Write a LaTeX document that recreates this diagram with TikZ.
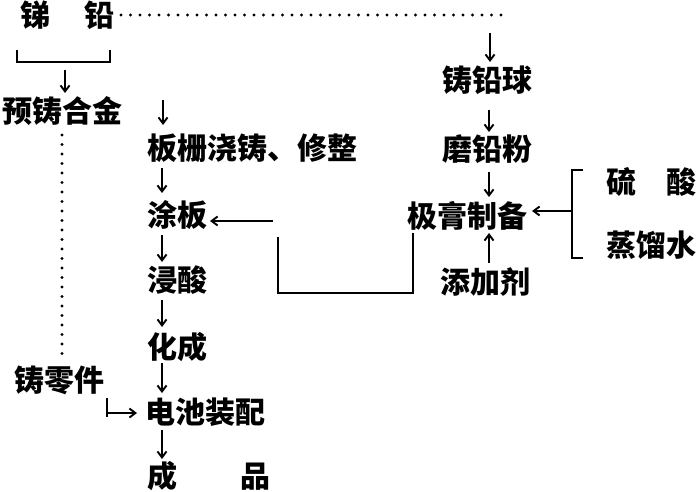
\documentclass[tikz,border=0pt]{standalone}
\usepackage{fontspec}
\newfontfamily\cjk{Noto Sans CJK SC}
\usetikzlibrary{arrows.meta}
\tikzset{
  lbl/.style={font=\cjk\bfseries\fontsize{30}{30}\selectfont, inner sep=0pt, outer sep=0pt, text height=26pt, text depth=4pt, anchor=west},
  arr/.style={line width=1.9pt, -{Straight Barb[length=6pt,width=9pt,line width=1.9pt]}},
  ln/.style={line width=2.3pt},
  dotline/.style={line width=3.3pt, line cap=round, dash pattern=on 0pt off 9.5pt},
}
\begin{document}
\begin{tikzpicture}[x=1pt,y=-1pt]
\fill[white] (0,0) rectangle (698,492);
\useasboundingbox (0,0) rectangle (698,492);
% nodes
\node[lbl] (ti) at (20,16) {锑\hspace{35pt}铅};
\node[lbl] (yuzhu) at (2,112) {预铸合金};
\node[lbl] (banzha) at (147,148) {板栅浇铸、修整};
\node[lbl] (tuban) at (147,215) {涂板};
\node[lbl] (jinsuan) at (147,280) {浸酸};
\node[lbl] (huacheng) at (147,347) {化成};
\node[lbl] (dianchi) at (145,412) {电池装配};
\node[lbl] (chengpin) at (147,476) {成\hspace{63pt}品};
\node[lbl] (zhulingjian) at (14,380) {铸零件};
\node[lbl] (zhuqianqiu) at (442,81) {铸铅球};
\node[lbl] (moqianfen) at (442,149) {磨铅粉};
\node[lbl] (jigao) at (407,216) {极膏制备};
\node[lbl] (tianjia) at (440,282) {添加剂};
\node[lbl] (liusuan) at (606,182) {硫\hspace{30pt}酸};
\node[lbl] (zhengliu) at (606,245) {蒸馏水};
% helper coordinates
\coordinate (cL) at (162,0);
\coordinate (cR) at (489,0);
\coordinate (cD) at (62,0);
\coordinate (dc) at (503,15);
\coordinate (dtop) at (490,33);
\coordinate (b1) at (65,62);
\coordinate (a0) at (163,100);
\coordinate (zt) at (107,413);
\coordinate (bm) at (572,211);
\coordinate (fbx) at (413,0);
\coordinate (fa) at (273,221);
% top dotted line to lead-ball casting
\draw[dotline] (ti.east) ++(6,-1) -- (dc);
\draw[arr, shorten >=4pt] (dtop) -- (dtop |- zhuqianqiu.north);
% bracket under antimony/lead
\draw[ln] (17,50) |- (110,62) -- (110,50);
\draw[arr, shorten <=8pt, shorten >=4pt] (b1) -- (b1 |- yuzhu.north);
% left column
\draw[arr, shorten >=8pt] (a0) -- (a0 |- banzha.north);
\draw[arr, shorten <=5pt, shorten >=7pt] (banzha.south -| cL) -- (tuban.north -| cL);
\draw[arr, shorten <=5pt, shorten >=3pt] (tuban.south -| cL) -- (jinsuan.north -| cL);
\draw[arr, shorten <=5pt, shorten >=5pt] (jinsuan.south -| cL) -- (huacheng.north -| cL);
\draw[arr, shorten <=1pt, shorten >=4pt] (huacheng.south -| cL) -- (dianchi.north -| cL);
\draw[arr, shorten <=3pt, shorten >=2pt] (dianchi.south -| cL) -- (chengpin.north -| cL);
% dotted from pre-cast alloy to cast parts
\draw[dotline, shorten <=8pt, shorten >=5pt] (yuzhu.south -| cD) -- (zhulingjian.north -| cD);
% cast parts to battery assembly
\draw[ln, line width=1.6pt] (107,398) -- (107,417);
\draw[arr, shorten >=8pt] (zt) -- (zt -| dianchi.west);
% right column
\draw[arr, shorten <=14pt, shorten >=2pt] (zhuqianqiu.south -| cR) -- (moqianfen.north -| cR);
\draw[arr, shorten <=8pt, shorten >=4pt] (moqianfen.south -| cR) -- (jigao.north -| cR);
\draw[arr, shorten <=4pt, shorten >=2pt] (tianjia.north -| cR) -- (jigao.south -| cR);
% bracket of sulfuric acid / distilled water
\draw[ln] (583,170) -- (572,170) -- (572,258) -- (583,258);
\draw[arr, shorten >=5pt] (bm) -- (bm -| jigao.east);
% feedback from paste to pasting
\draw[ln] (jigao.south -| fbx) ++(0,2) |- (278,293) -- (278,237);
\draw[arr, shorten >=3pt] (fa) -- (fa -| tuban.east);
\end{tikzpicture}
\end{document}
